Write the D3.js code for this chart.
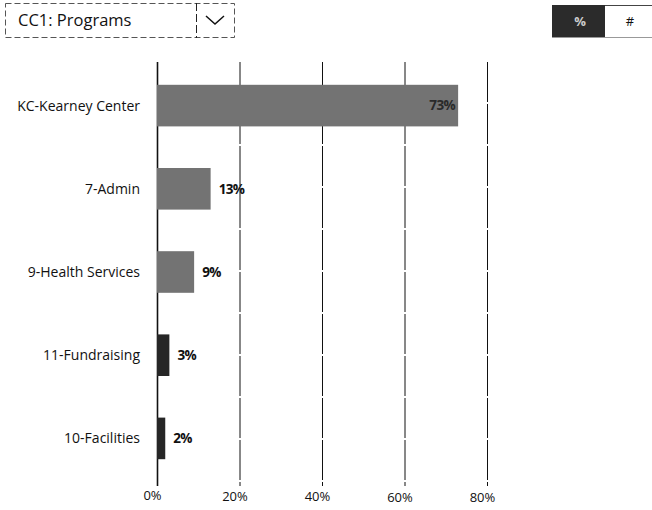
<!DOCTYPE html>
<html>
<head>
<meta charset="utf-8">
<script src="https://cdn.jsdelivr.net/npm/d3@7"></script>
<style>
  body { margin: 0; background: #fff; }
  svg { display: block; font-family: "Open Sans", "Noto Sans", sans-serif; }
</style>
</head>
<body>
<div class="chart"></div>
<script>
// ======================================
// data
// ======================================
var categories = ['KC-Kearney Center', '7-Admin', '9-Health Services', '11-Fundraising', '10-Facilities'];
var shares = [73, 13, 9, 3, 2];
var tickValues = [0, 20, 40, 60, 80];
var selectedProgram = 'CC1: Programs';

// ======================================
// sizes
// ======================================
var chart = {
   width: 652,
   height: 510,
   left: 157,
   right: 487,
   top: 64,
   bottom: 480
};

var svg = d3.select('.chart')
   .append('svg')
   .attr('width', chart.width)
   .attr('height', chart.height)
   ;

var x = d3.scaleLinear()
   .domain([0, 80])
   .range([chart.left, chart.right]);

var y = d3.scaleBand()
   .domain(categories)
   .range([chart.top, chart.bottom])
   .paddingInner(0.5)
   .paddingOuter(0.25);

// ======================================
// dropdown + toggle
// ======================================
var dd = svg.append('g');
dd.append('rect')
   .attr('x', 5.5).attr('y', 3.5).attr('width', 229).attr('height', 34)
   .attr('fill', 'none').attr('stroke', '#555').attr('stroke-dasharray', '6,3');
dd.append('line')
   .attr('x1', 196.5).attr('x2', 196.5).attr('y1', 3).attr('y2', 38)
   .attr('stroke', '#222').attr('stroke-dasharray', '8,3');
dd.append('text')
   .attr('x', 18).attr('y', 26)
   .attr('font-size', 16.5).attr('fill', '#111')
   .text(selectedProgram);
dd.append('path')
   .attr('d', 'M206,16 L215,24 L224,16')
   .attr('fill', 'none').attr('stroke', '#111').attr('stroke-width', 1.5);

var tg = svg.append('g');
tg.append('line')
   .attr('x1', 552).attr('x2', 652).attr('y1', 5.5).attr('y2', 5.5)
   .attr('stroke', '#444');
tg.append('line')
   .attr('x1', 552).attr('x2', 652).attr('y1', 37.5).attr('y2', 37.5)
   .attr('stroke', '#999');
tg.append('rect')
   .attr('x', 552).attr('y', 5).attr('width', 53).attr('height', 32)
   .attr('fill', '#2b2b2b');
tg.append('text')
   .attr('x', 580).attr('y', 26).attr('text-anchor', 'middle')
   .attr('font-size', 13).attr('font-weight', 'bold').attr('fill', '#ccc')
   .text('%');
tg.append('text')
   .attr('x', 630).attr('y', 26).attr('text-anchor', 'middle')
   .attr('font-size', 13).attr('fill', '#111')
   .text('#');

// ======================================
// grid and axis
// ======================================
svg.append('g')
   .selectAll('line')
   .data(tickValues)
   .enter()
   .append('line')
      .attr('x1', function(d){ return x(d) + 0.5; })
      .attr('x2', function(d){ return x(d) + 0.5; })
      .attr('y1', chart.top - 2)
      .attr('y2', 486)
      .attr('stroke', '#111')
      .attr('stroke-width', function(d){ return d === 0 ? 1.6 : 1; })
      .attr('stroke-dasharray', function(d){ return d === 0 ? null : '40,2'; })
   ;

var xAxis = d3.axisBottom(x)
   .tickValues(tickValues)
   .tickSize(0)
   .tickPadding(0)
   .tickFormat(function(d){ return d + '%'; });

svg.append('g')
   .attr('transform', 'translate(-5,' + 500 + ')')
   .call(xAxis)
   .call(function(g){ g.select('.domain').remove(); })
   .selectAll('text')
      .attr('font-size', 13)
      .attr('fill', '#111')
      .attr('font-family', '"Open Sans", sans-serif')
      .attr('dy', function(d, i){ return (i * 0.6) + 'px'; })
   ;

// ======================================
// bars
// ======================================
svg.append('g')
   .selectAll('rect')
   .data(shares)
   .enter()
   .append('rect')
      .attr('x', x(0))
      .attr('y', function(d, i){ return y(categories[i]); })
      .attr('width', function(d){ return x(d) - x(0); })
      .attr('height', y.bandwidth())
      .attr('fill', function(d){ return d < 5 ? '#262626' : '#737373'; })
   ;

// category labels
svg.append('g')
   .selectAll('text')
   .data(categories)
   .enter()
   .append('text')
      .attr('x', 140)
      .attr('y', function(d){ return y(d) + y.bandwidth() / 2; })
      .attr('dy', '0.35em')
      .attr('text-anchor', 'end')
      .attr('font-size', 14)
      .attr('fill', '#111')
      .text(function(d){ return d; })
   ;

// value labels
svg.append('g')
   .selectAll('text')
   .data(shares)
   .enter()
   .append('text')
      .attr('x', function(d){ return d > 50 ? x(d) - 3 : x(d) + 8; })
      .attr('y', function(d, i){ return y(categories[i]) + y.bandwidth() / 2; })
      .attr('dy', '0.35em')
      .attr('text-anchor', function(d){ return d > 50 ? 'end' : 'start'; })
      .attr('font-size', 13.5)
      .attr('font-weight', 'bold')
      .attr('letter-spacing', '-0.6px')
      .attr('fill', function(d){ return d > 50 ? '#2a2a2a' : '#111'; })
      .text(function(d){ return d + '%'; })
   ;
</script>
</body>
</html>
